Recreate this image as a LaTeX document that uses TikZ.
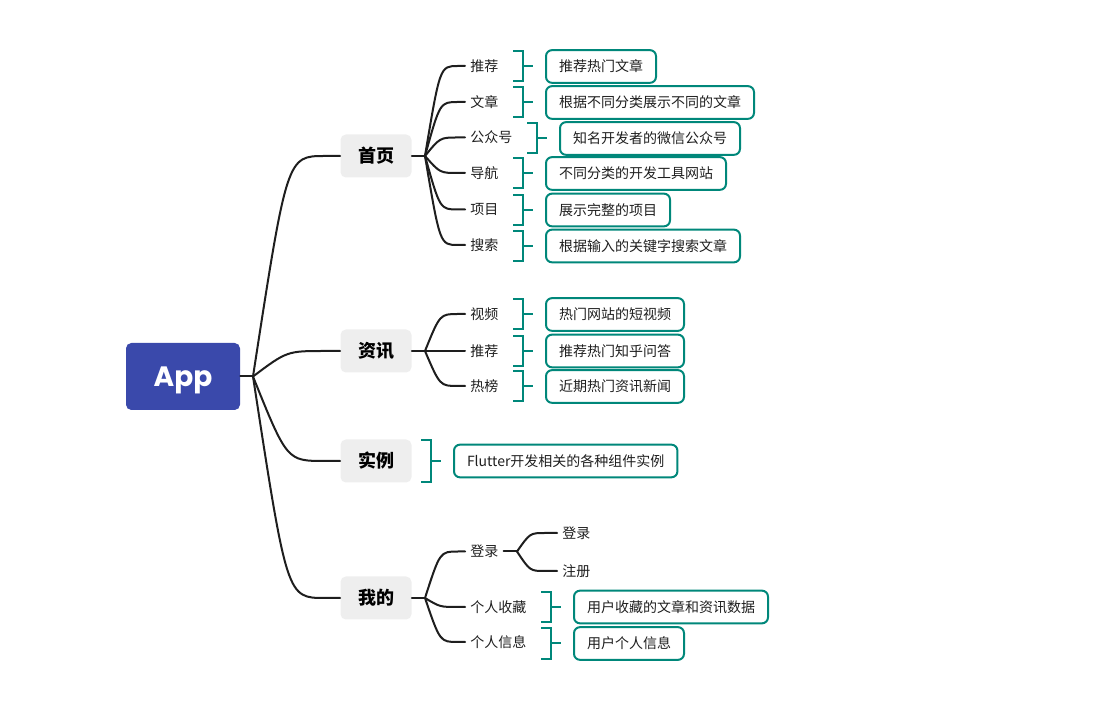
\documentclass[tikz,border=0pt]{standalone}
\usepackage{fontspec}
\setmainfont{Noto Sans CJK SC}
\newfontfamily\appfont{Poppins}
\usetikzlibrary{calc}
\definecolor{rootblue}{HTML}{3A49AB}
\definecolor{topicgray}{HTML}{EEEEEE}
\definecolor{mmteal}{HTML}{00877A}
\definecolor{ink}{HTML}{1E1E1E}

% curved connector: from a junction to the west side of a node
\newcommand\twig[4]{%
  \draw[tree] let \p1=(#1), \p2=(#2.west) in
    (\p1) .. controls (\x1+#3,\y2) .. (\x1+#4,\y2) -- (\p2);}
% square bracket in front of a detail box
\newcommand\notebrace[2]{%
  \draw[brk] let \p1=(#1.west) in
    (\x1-24pt,\y1+#2) -- (\x1-16.5pt,\y1+#2) -- (\x1-16.5pt,\y1-#2) -- (\x1-24pt,\y1-#2)
    (\x1-16.5pt,\y1) -- (\x1-9pt,\y1);}

\tikzset{
  tree/.style={draw=ink, line width=1.5pt, line cap=round},
  brk/.style={draw=mmteal, line width=1.5pt},
  rootbox/.style={fill=rootblue, rounded corners=4pt, minimum width=85.5pt,
    minimum height=50.25pt, text=white, text depth=0pt,
    font=\appfont\bfseries\fontsize{21}{21}\selectfont},
  topic/.style={fill=topicgray, rounded corners=4pt, minimum width=53.25pt,
    minimum height=32.25pt, text=black, font=\bfseries\fontsize{13.5}{14}\selectfont},
  sub/.style={anchor=west, inner xsep=3.75pt, inner ysep=0pt, text=ink,
    font=\fontsize{10.5}{12}\selectfont},
  note/.style={anchor=west, draw=mmteal, line width=1.5pt, rounded corners=4.5pt,
    inner xsep=9.75pt, inner ysep=0pt, minimum height=24.5pt, text=ink,
    font=\fontsize{10.5}{12}\selectfont},
}

\begin{document}
\begin{tikzpicture}[x=0.75pt,y=-0.75pt]
\useasboundingbox (0,0) rectangle (1097,716);

% root and main topics
\node[rootbox] (root) at (183,376.5) {App};
\coordinate (hub) at (253,376.5);
\node[topic] (home) at (376,156) {首页};
\node[topic] (news) at (376,351) {资讯};
\node[topic] (demo) at (376,461) {实例};
\node[topic] (mine) at (376,598) {我的};

\draw[tree] (root.east) -- (hub);
\twig{hub}{home}{25.5pt}{54pt}
\twig{hub}{news}{25.5pt}{54pt}
\twig{hub}{demo}{25.5pt}{54pt}
\twig{hub}{mine}{25.5pt}{54pt}

% 首页
\coordinate (hj) at (425,156);
\draw[tree] (home.east) -- (hj);
\node[sub] (h1) at (465,66) {推荐};
\node[sub] (h2) at (465,102) {文章};
\node[sub] (h3) at (465,137.5) {公众号};
\node[sub] (h4) at (465,173) {导航};
\node[sub] (h5) at (465,209.5) {项目};
\node[sub] (h6) at (465,245) {搜索};
\foreach \k in {h1,h2,h3,h4,h5,h6} {\twig{hj}{\k}{11.25pt}{24.75pt}}
\node[note] (hn1) at (545,66.5) {推荐热门文章};
\node[note] (hn2) at (545,102.5) {根据不同分类展示不同的文章};
\node[note] (hn3) at (559,138.5) {知名开发者的微信公众号};
\node[note] (hn4) at (545,173.5) {不同分类的开发工具网站};
\node[note] (hn5) at (545,210) {展示完整的项目};
\node[note] (hn6) at (545,246) {根据输入的关键字搜索文章};
\foreach \k in {hn1,hn2,hn3,hn4,hn5,hn6} {\notebrace{\k}{11.25pt}}

% 资讯
\coordinate (nj) at (425,351);
\draw[tree] (news.east) -- (nj);
\node[sub] (n1) at (465,314) {视频};
\node[sub] (n2) at (465,351) {推荐};
\node[sub] (n3) at (465,386) {热榜};
\foreach \k in {n1,n2,n3} {\twig{nj}{\k}{11.25pt}{24.75pt}}
\node[note] (nn1) at (545,314.5) {热门网站的短视频};
\node[note] (nn2) at (545,351) {推荐热门知乎问答};
\node[note] (nn3) at (545,386.5) {近期热门资讯新闻};
\foreach \k in {nn1,nn2,nn3} {\notebrace{\k}{11.25pt}}

% 实例
\node[note] (dn1) at (453,461) {Flutter开发相关的各种组件实例};
\notebrace{dn1}{16.1pt}

% 我的
\coordinate (mj) at (425,598);
\draw[tree] (mine.east) -- (mj);
\node[sub] (m1) at (465,551.5) {登录};
\node[sub] (m2) at (465,607) {个人收藏};
\node[sub] (m3) at (465,642) {个人信息};
\foreach \k in {m1,m2,m3} {\twig{mj}{\k}{11.25pt}{24.75pt}}
\coordinate (lj) at (517,551.5);
\draw[tree] (m1.east) -- (lj);
\node[sub] (l1) at (557,533) {登录};
\node[sub] (l2) at (557,571) {注册};
\twig{lj}{l1}{9.75pt}{21pt}
\twig{lj}{l2}{9.75pt}{21pt}
\node[note] (mn2) at (573,607) {用户收藏的文章和资讯数据};
\node[note] (mn3) at (573,643.5) {用户个人信息};
\notebrace{mn2}{11.25pt}
\notebrace{mn3}{11.25pt}
\end{tikzpicture}
\end{document}
